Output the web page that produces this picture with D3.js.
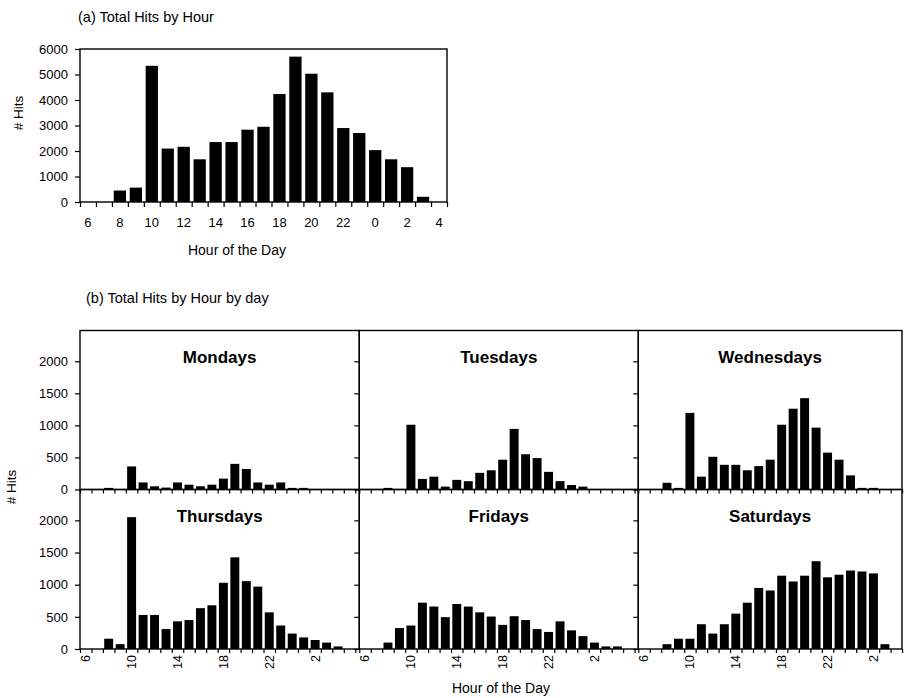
<!DOCTYPE html>
<html><head><meta charset="utf-8">
<script src="https://cdn.jsdelivr.net/npm/d3@7"></script>
<style>
body{margin:0;background:#fff}
svg text{font-family:"Liberation Sans",Arial,Helvetica,sans-serif;fill:#000}
</style>
</head><body>
<svg id="chart" width="907" height="698"></svg>
<script>
// ---------- data ----------
const totalHours = [6,7,8,9,10,11,12,13,14,15,16,17,18,19,20,21,22,23,0,1,2,3,4];
const totalHits  = [0,0,450,565,5340,2095,2165,1675,2350,2350,2835,2950,4235,5700,5030,4300,2900,2705,2035,1675,1365,205,0];
const totalXLabels = [6,8,10,12,14,16,18,20,22,0,2,4];
const totalYTicks  = [0,1000,2000,3000,4000,5000,6000];

const dayHours = [6,7,8,9,10,11,12,13,14,15,16,17,18,19,20,21,22,23,0,1,2,3,4,5];
const dayNames = ["Mondays","Tuesdays","Wednesdays","Thursdays","Fridays","Saturdays"];
const mondays    = [0,0,25,0,360,110,50,30,110,75,50,75,170,400,320,110,75,110,25,25,0,0,0,0];
const tuesdays   = [0,0,25,0,1010,165,200,45,150,130,260,300,465,945,550,490,275,130,70,45,0,0,0,0];
const wednesdays = [0,0,105,25,1195,200,510,385,385,300,365,465,1010,1260,1425,965,575,465,220,25,25,0,0,0];
const thursdays  = [0,0,160,75,2050,530,530,310,430,450,635,680,1030,1425,1055,970,570,365,240,180,140,100,40,0];
const fridays    = [0,0,100,325,365,720,660,495,700,660,570,505,375,510,450,310,265,430,290,200,100,40,40,0];
const saturdays  = [0,0,75,160,160,385,240,385,550,720,950,910,1140,1050,1140,1365,1115,1155,1220,1205,1175,75,0,0];
const daySeries  = [mondays,tuesdays,wednesdays,thursdays,fridays,saturdays];
const dayXLabels = [6,10,14,18,22,2];
const dayYTicks  = [0,500,1000,1500,2000];

// ---------- drawing ----------
const svg = d3.select("#chart");
const FS = 13;

function cleanAxis(g){ g.select(".domain").remove(); g.selectAll("line").attr("stroke","#000").attr("stroke-width",1.2); g.selectAll("text").attr("font-size",FS).attr("font-family",null); }

// (a) Total hits by hour
{
  const L=80,R=447,T=49,B=202;
  const x = d3.scaleBand().domain(totalHours.map(String)).range([L,R]).paddingInner(0.23).paddingOuter(0.115);
  const xb = d3.scaleLinear().domain([0,totalHours.length]).range([L,R]);
  const y = d3.scaleLinear().domain([0,6000]).range([B,T]);

  svg.append("text").attr("x",78).attr("y",22).attr("font-size",14.5).text("(a) Total Hits by Hour");

  svg.append("g").selectAll("rect").data(totalHits).join("rect")
    .attr("x",(d,i)=>x(String(totalHours[i]))).attr("width",x.bandwidth())
    .attr("y",d=>y(d)).attr("height",d=>B-y(d)).attr("fill","#000");

  svg.append("g").attr("transform",`translate(0,${B})`)
    .call(d3.axisBottom(xb).tickValues(d3.range(totalHours.length+1)).tickSize(5).tickFormat(""))
    .call(cleanAxis);
  svg.append("g").attr("transform",`translate(0,${B})`)
    .call(d3.axisBottom(x).tickValues(totalXLabels.map(String)).tickSize(0).tickPadding(16))
    .call(cleanAxis);
  svg.append("g").attr("transform",`translate(${L},0)`)
    .call(d3.axisLeft(y).tickValues(totalYTicks).tickFormat(d3.format("d")).tickSize(5).tickPadding(7))
    .call(cleanAxis);

  svg.append("rect").attr("x",L).attr("y",T).attr("width",R-L).attr("height",B-T)
    .attr("fill","none").attr("stroke","#000").attr("stroke-width",1.4);

  svg.append("text").attr("transform","translate(18,113) rotate(-90)").attr("dy","0.35em")
    .attr("text-anchor","middle").attr("font-size",13.5).text("# Hits");
  svg.append("text").attr("x",237).attr("y",255).attr("text-anchor","middle").attr("font-size",14).text("Hour of the Day");
}

// (b) Total hits by hour by day
{
  svg.append("text").attr("x",86).attr("y",303).attr("font-size",14.5).text("(b) Total Hits by Hour by day");
  const colX = [80,359.3,638.3];
  const colRight = [359.3,638.3,902];
  const rowTop = [330.5,489.5];
  const rowBottom = [489.5,649];
  const step = 11.47;
  const n = dayHours.length;

  daySeries.forEach((vals,k)=>{
    const c = k%3, r = Math.floor(k/3);
    const x0 = colX[c], x1 = colRight[c], T = rowTop[r], B = rowBottom[r];
    const x = d3.scaleBand().domain(dayHours.map(String)).range([x0,x0+n*step]).paddingInner(0.22).paddingOuter(0.11);
    const nb = Math.floor((x1-x0)/step+0.01);
    const xb = d3.scaleLinear().domain([0,n]).range([x0,x0+n*step]);
    const y = d3.scaleLinear().domain([0,2480]).range([B,T]);
    const g = svg.append("g");

    g.append("g").selectAll("rect").data(vals).join("rect")
      .filter((d,i)=>x(String(dayHours[i]))+x.bandwidth()<=x1)
      .attr("x",(d,i)=>x(String(dayHours[i]))).attr("width",x.bandwidth())
      .attr("y",d=>y(d)).attr("height",d=>B-y(d)).attr("fill","#000");

    g.append("g").attr("transform",`translate(0,${B})`)
      .call(d3.axisBottom(xb).tickValues(d3.range(nb+1)).tickSize(4).tickFormat(""))
      .call(cleanAxis);

    const ya = d3.axisLeft(y).tickValues(dayYTicks).tickSize(5).tickPadding(7).tickFormat(d3.format("d"));
    if(c>0) ya.tickFormat("");
    g.append("g").attr("transform",`translate(${x0},0)`).call(ya).call(cleanAxis);

    if(r===1){
      g.append("g").attr("transform",`translate(0,${B})`)
        .call(d3.axisBottom(x).tickValues(dayXLabels.map(String)).tickSize(0))
        .call(cleanAxis)
        .selectAll("text")
          .attr("y",0).attr("x",-6).attr("dy","0.35em")
          .attr("transform","rotate(-90)").attr("text-anchor","end").attr("font-size",12.5);
    }

    g.append("rect").attr("x",x0).attr("y",T).attr("width",x1-x0).attr("height",B-T)
      .attr("fill","none").attr("stroke","#000").attr("stroke-width",1.4);

    g.append("text").attr("x",(x0+x1)/2).attr("y",T+32).attr("text-anchor","middle")
      .attr("font-size",17).attr("font-weight","bold").text(dayNames[k]);
  });

  svg.append("text").attr("transform","translate(11,487) rotate(-90)").attr("dy","0.35em")
    .attr("text-anchor","middle").attr("font-size",13.5).text("# Hits");
  svg.append("text").attr("x",501).attr("y",693).attr("text-anchor","middle").attr("font-size",14).text("Hour of the Day");
}
</script>
</body></html>
